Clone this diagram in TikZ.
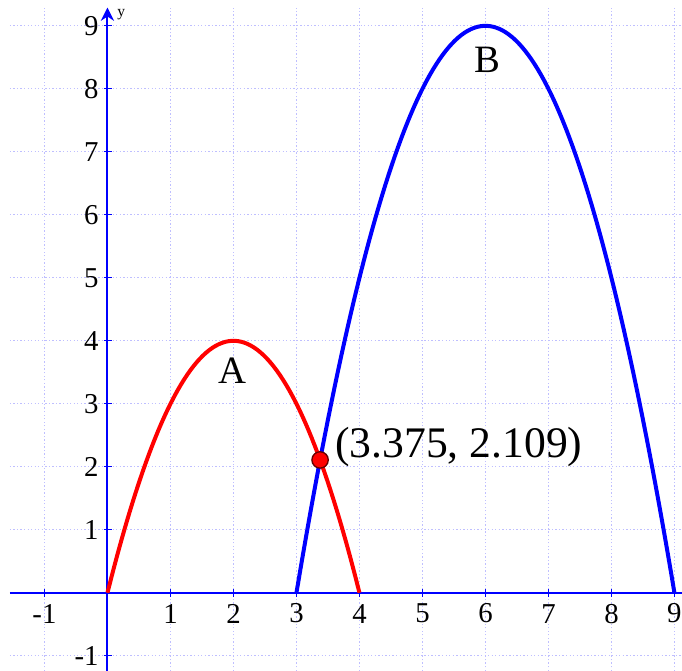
\documentclass[tikz,border=0pt]{standalone}
\usepackage{fontspec}
\setmainfont{Liberation Serif}
\usepackage{tikz}
\usetikzlibrary{positioning,arrows.meta}

\tikzset{
  gridline/.style={blue!25,densely dotted,line width=0.6pt},
  axisline/.style={blue,line width=0.9pt},
  curveA/.style={red,line width=1.8pt,samples=80},
  curveB/.style={blue,line width=1.8pt,samples=120},
  ticklab/.style={font=\fontsize{13}{15}\selectfont,inner sep=1pt},
  bigword/.style={font=\fontsize{17.5}{20}\selectfont},
  meet/.style={circle,draw=red!40!black,fill=red,line width=0.6pt,minimum size=0.26cm,inner sep=0pt}
}

\begin{document}
\begin{tikzpicture}[>={Stealth[]}]
\useasboundingbox (-1.706,-1.24) rectangle (9.12,9.41);
\draw[gridline] (-1.55,-1.24) grid (9.12,9.29);
% axes
\coordinate (xstart) at (-1.55,0);
\coordinate (xend) at (9.12,0);
\coordinate (ystart) at (0,-1.24);
\coordinate (yend) at (0,9.29);
\draw[axisline] (xstart) -- (xend);
\draw[axisline,-{Stealth[length=6pt,width=6pt]}] (ystart) -- (yend);
\node[font=\fontsize{7}{8}\selectfont,inner sep=0pt] (ylab) at (0.22,9.17) {y};
\foreach \t in {-1,1,2,...,9} {
  \draw[axisline,line width=0.6pt] (\t,-0.06) -- (\t,0.06);
  \node[ticklab] (xt\t) at (\t,-0.33) {\t};
}
\foreach \t in {-1,1,2,...,9} {
  \draw[axisline,line width=0.6pt] (-0.06,\t) -- (0.07,\t);
  \node[ticklab,anchor=east] (yt\t) at (-0.1,\t) {\t};
}
% the two arches
\draw[curveA,domain=0:4] plot (\x,{\x*(4-\x)});
\draw[curveB,domain=3:9] plot (\x,{9-(\x-6)*(\x-6)});
\node[bigword] (A) at (1.98,3.52) {A};
\node[bigword] (B) at (6.03,8.46) {B};
% where they cross
\node[meet] (P) at (3.375,2.109) {};
\node[font=\fontsize{19.7}{22}\selectfont,anchor=west,inner sep=0pt] (Plab) at (3.61,2.32) {(3.375, 2.109)};
\end{tikzpicture}
\end{document}
